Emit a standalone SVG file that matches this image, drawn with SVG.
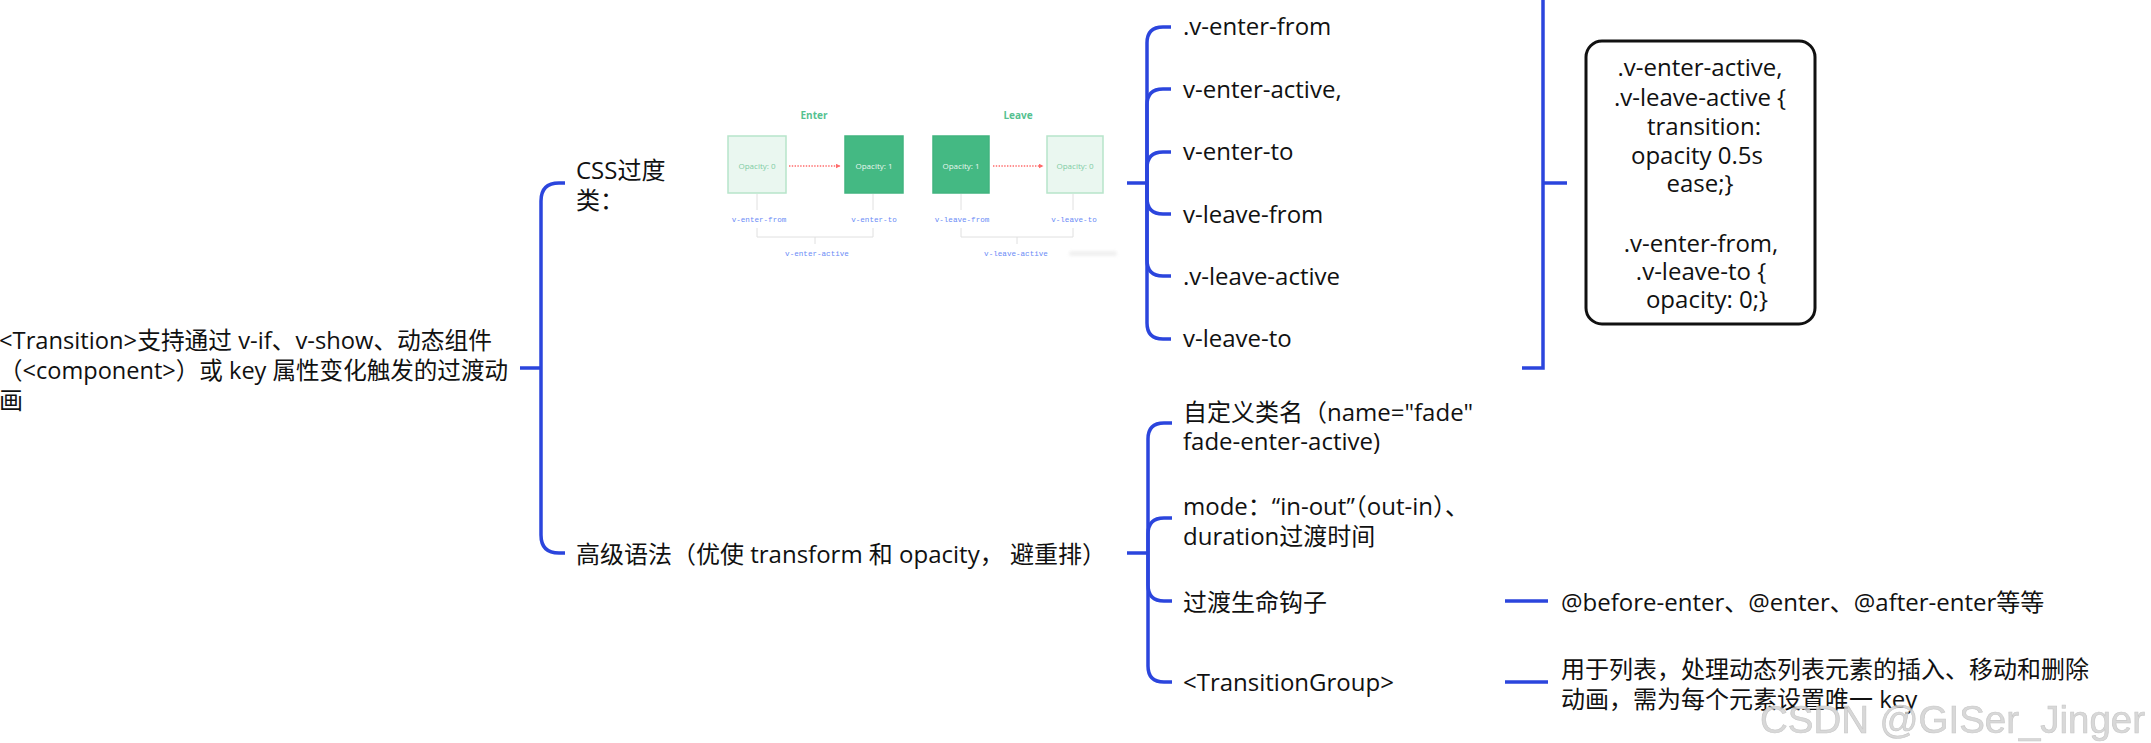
<svg xmlns="http://www.w3.org/2000/svg" width="2151" height="743" viewBox="0 0 2151 743">
<defs>
<style>
.t{font-family:"Open Sans","Noto Sans CJK SC",sans-serif;font-size:24px;fill:#111}
.c{text-anchor:middle}
.ln{fill:none;stroke:#2b45dd;stroke-width:3.5;stroke-linecap:butt}
.lbl{font-family:"Liberation Mono",monospace;font-size:7.6px;fill:#6a8bf6;text-anchor:middle}
.op{font-family:"Open Sans",sans-serif;font-size:8px;text-anchor:middle}
.ttl{font-family:"Open Sans",sans-serif;font-size:10px;font-weight:bold;fill:#55c190;text-anchor:middle}
.bxl{fill:#eaf7f0;stroke:#b7e5ca;stroke-width:1.5}
.bxd{fill:#44b983;stroke:#40b47f;stroke-width:1.5}
.gl{fill:none;stroke:#e0e0e0;stroke-width:1}
.ar{fill:none;stroke:#ff6b6b;stroke-width:1.3;stroke-dasharray:1.4 1.4}
.wm{font-family:"Liberation Sans",sans-serif;font-size:38px;fill:#d2d2d2;stroke:#bdbdbd;stroke-width:0.6;opacity:0.85}
</style>
<marker id="red" viewBox="0 0 10 10" refX="9" refY="5" markerWidth="5" markerHeight="5" orient="auto" markerUnits="userSpaceOnUse">
<path d="M0 0 L10 5 L0 10 Z" fill="#ff6b6b"/>
</marker>
<filter id="blur" x="-20%" y="-50%" width="140%" height="200%"><feGaussianBlur stdDeviation="1.5"/></filter>
</defs>
<rect x="0" y="0" width="2151" height="743" fill="#ffffff"/>

<g id="connectors">
<path class="ln" d="M520 368 H541"/>
<path class="ln" d="M541 368 V201 Q541 183 559 183 H565"/>
<path class="ln" d="M541 368 V535 Q541 553 559 553 H565"/>
<path class="ln" d="M1127 183 H1147"/>
<path class="ln" d="M1147 183 V43 Q1147 27 1163 27 H1171"/>
<path class="ln" d="M1147 183 V105 Q1147 89 1163 89 H1171"/>
<path class="ln" d="M1147 183 V168 Q1147 152 1163 152 H1171"/>
<path class="ln" d="M1147 183 V198 Q1147 214 1163 214 H1171"/>
<path class="ln" d="M1147 183 V260 Q1147 276 1163 276 H1171"/>
<path class="ln" d="M1147 183 V323 Q1147 339 1163 339 H1171"/>
<path class="ln" d="M1522 368 H1543 V-5"/>
<path class="ln" d="M1543 183 H1567"/>
<path class="ln" d="M1127 553 H1148"/>
<path class="ln" d="M1148 553 V439 Q1148 423 1164 423 H1172"/>
<path class="ln" d="M1148 553 V534 Q1148 518 1164 518 H1172"/>
<path class="ln" d="M1148 553 V585 Q1148 601 1164 601 H1172"/>
<path class="ln" d="M1148 553 V666 Q1148 682 1164 682 H1172"/>
<path class="ln" d="M1505 601 H1548"/>
<path class="ln" d="M1505 682 H1548"/>
</g>

<g id="root">
<text class="t" x="-1" y="349" textLength="493" lengthAdjust="spacingAndGlyphs">&lt;Transition&gt;支持通过 v-if、v-show、动态组件</text>
<text class="t" x="-1" y="379" textLength="509" lengthAdjust="spacingAndGlyphs">（&lt;component&gt;）或 key 属性变化触发的过渡动</text>
<text class="t" x="-1" y="409">画</text>
</g>

<g id="css-classes">
<text class="t" x="576" y="179">CSS过度</text>
<text class="t" x="576" y="209">类：</text>
<g id="css-illustration">
<text class="ttl" x="814" y="119">Enter</text>
<text class="ttl" x="1018" y="119">Leave</text>
<rect class="bxl" x="728" y="136" width="58" height="57"/>
<rect class="bxd" x="845" y="136" width="58" height="57"/>
<rect class="bxd" x="933" y="136" width="56" height="57"/>
<rect class="bxl" x="1047" y="136" width="56" height="57"/>
<text class="op" x="757" y="169" fill="#7fcca3">Opacity: 0</text>
<text class="op" x="874" y="169" fill="#e8f7ef">Opacity: 1</text>
<text class="op" x="961" y="169" fill="#e8f7ef">Opacity: 1</text>
<text class="op" x="1075" y="169" fill="#7fcca3">Opacity: 0</text>
<path class="ar" d="M789 166 H840" marker-end="url(#red)"/>
<path class="ar" d="M993 166 H1043" marker-end="url(#red)"/>
<path class="gl" d="M757 194 V210 M873 194 V210 M961 194 V210 M1073 194 V210"/>
<path class="gl" d="M757 228 V237 H873 V228 M815 237 V244"/>
<path class="gl" d="M961 228 V237 H1073 V228 M1017 237 V244"/>
<text class="lbl" x="759" y="221.5">v-enter-from</text>
<text class="lbl" x="874" y="221.5">v-enter-to</text>
<text class="lbl" x="962" y="221.5">v-leave-from</text>
<text class="lbl" x="1074" y="221.5">v-leave-to</text>
<text class="lbl" x="817" y="255.5">v-enter-active</text>
<text class="lbl" x="1016" y="255.5">v-leave-active</text>
<rect x="1069" y="251" width="48" height="5" rx="2.5" fill="#e2e2e2" opacity="0.5" filter="url(#blur)"/>
</g>
</g>

<g id="n-v-enter-from"><text class="t" x="1183" y="35">.v-enter-from</text></g>
<g id="n-v-enter-active"><text class="t" x="1183" y="98">v-enter-active,</text></g>
<g id="n-v-enter-to"><text class="t" x="1183" y="160">v-enter-to</text></g>
<g id="n-v-leave-from"><text class="t" x="1183" y="223">v-leave-from</text></g>
<g id="n-v-leave-active"><text class="t" x="1183" y="285">.v-leave-active</text></g>
<g id="n-v-leave-to"><text class="t" x="1183" y="347">v-leave-to</text></g>

<g id="code-box">
<rect x="1586" y="41" width="229" height="283" rx="16" ry="16" fill="#ffffff" stroke="#111" stroke-width="3"/>
<text class="t c" x="1700" y="76">.v-enter-active,</text>
<text class="t c" x="1700" y="106">.v-leave-active {</text>
<text class="t c" x="1704" y="135">transition:</text>
<text class="t c" x="1697" y="164">opacity 0.5s</text>
<text class="t c" x="1700" y="192">ease;}</text>
<text class="t c" x="1701" y="252">.v-enter-from,</text>
<text class="t c" x="1701" y="280">.v-leave-to {</text>
<text class="t c" x="1707" y="308">opacity: 0;}</text>
</g>

<g id="advanced">
<text class="t" x="576" y="563">高级语法（优使 transform 和 opacity， 避重排）</text>
</g>

<g id="n-custom-class">
<text class="t" x="1183" y="421">自定义类名（name="fade"</text>
<text class="t" x="1183" y="450">fade-enter-active)</text>
</g>
<g id="n-mode">
<text class="t" x="1183" y="515">mode：“in-out”（out-in）、</text>
<text class="t" x="1183" y="545">duration过渡时间</text>
</g>
<g id="n-hooks"><text class="t" x="1183" y="611">过渡生命钩子</text></g>
<g id="n-transition-group"><text class="t" x="1183" y="691">&lt;TransitionGroup&gt;</text></g>
<g id="n-hooks-detail"><text class="t" x="1561" y="611">@before-enter、@enter、@after-enter等等</text></g>
<g id="n-group-detail">
<text class="t" x="1561" y="678">用于列表，处理动态列表元素的插入、移动和删除</text>
<text class="t" x="1561" y="708">动画，需为每个元素设置唯一 key</text>
</g>

<text class="wm" x="1760" y="733" textLength="385" lengthAdjust="spacingAndGlyphs">CSDN @GISer_Jinger</text>
</svg>
